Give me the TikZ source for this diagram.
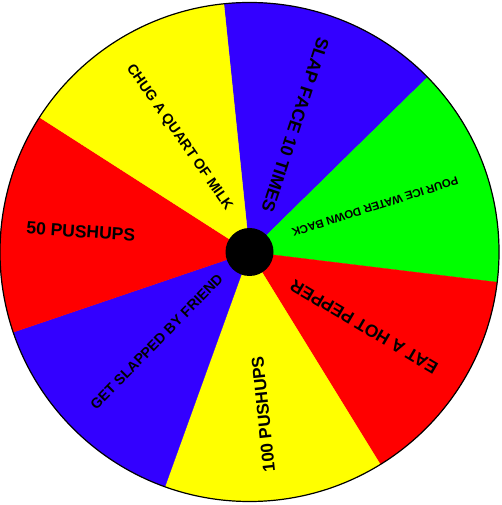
\documentclass[tikz,border=0pt]{standalone}
\usepackage{fontspec}
\setmainfont{Liberation Sans}
\definecolor{wblue}{RGB}{51,0,255}
\definecolor{wgreen}{RGB}{0,255,0}
\definecolor{wred}{RGB}{255,0,0}
\definecolor{wyellow}{RGB}{255,255,0}
\begin{document}
\begin{tikzpicture}[x=1pt,y=1pt,
  lbl/.style={inner sep=0pt, anchor=center, text=black},
  fs/.style={font=\fontsize{#1}{#1}\selectfont\bfseries}]
\useasboundingbox (0,0) rectangle (501,505);
\begin{scope}[shift={(249.5,253)}]
\foreach \c [count=\i from 0] in {wblue,wgreen,wred,wyellow,wblue,wred,wyellow} {
  \pgfmathsetmacro\a{95.9-\i*360/7}
  \pgfmathsetmacro\b{\a-360/7}
  \filldraw[fill=\c, draw=\c, line width=0.3pt] (0,0) -- (\a:249.5) arc[start angle=\a, end angle=\b, radius=249.5] -- cycle;
}
\draw[black, line width=1.2pt] (0,0) circle[radius=249.5];
\fill[black] (0,0) circle[radius=24];
\node[lbl, fs=17.7, rotate=-108] (slap) at (45.8,127) {SLAP FACE 10 TIMES};
\node[lbl, fs=11.4, rotate=197.7] (pour) at (125.5,45.3) {POUR ICE WATER DOWN BACK};
\node[lbl, fs=17.4, rotate=149.5] (eat) at (114.5,-74.7) {EAT A HOT PEPPER};
\node[lbl, fs=17.1, rotate=96] (hundred) at (13.8,-162.2) {100 PUSHUPS};
\node[lbl, fs=14.3, rotate=45.5] (get) at (-92.8,-89.7) {GET SLAPPED BY FRIEND};
\node[lbl, fs=17.5, rotate=-4] (fifty) at (-168.7,20.5) {50 PUSHUPS};
\node[lbl, fs=14.3, rotate=-55] (chug) at (-70.3,114.5) {CHUG A QUART OF MILK};
\end{scope}
\end{tikzpicture}
\end{document}
